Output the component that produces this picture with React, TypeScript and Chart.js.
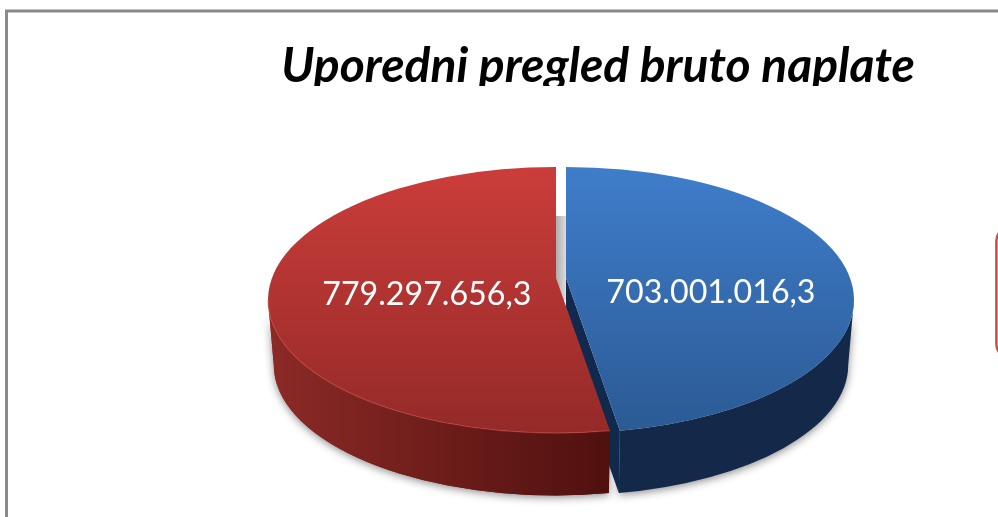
import React, { useEffect, useRef } from "react";
import { Chart, registerables } from "chart.js";

Chart.register(...registerables);

const titleText = "Uporedni pregled bruto naplate";
const categories = ["Bruto naplata A", "Bruto naplata B"];
const seriesValues = [703001016.3, 779297656.3];
const faceTop = ["#3f7dcb", "#cb3d3a"];
const faceBottom = ["#2b5a94", "#942a28"];
const sideLeft = ["#14294a", "#8c2a27"];
const sideRight = ["#14294a", "#4f100e"];
const cutFace = ["#11294d", "#5a1512"];
const labelReach = [0.505, 0.45];
const labelLift = [7, 5];

const TILT = 0.462;
const APEX_RISE = 22;
const DEPTH = 65;
const BASE_SCALE = 0.98;

const pieThreeD = {
  id: "pieThreeD",
  beforeDraw(chart: any) {
    const { ctx, width, height } = chart;
    ctx.save();
    ctx.fillStyle = "#ffffff";
    ctx.fillRect(0, 0, width, height);
    ctx.strokeStyle = "#8a8a8a";
    ctx.lineWidth = 3;
    ctx.strokeRect(6.5, 11, width + 40, height + 40);
    ctx.strokeStyle = "#c0504d";
    ctx.lineWidth = 2.5;
    ctx.beginPath();
    ctx.roundRect(996.4, 227, 60, 131, 14);
    ctx.stroke();
    ctx.restore();
  },
  beforeDatasetsDraw(chart: any) {
    const { ctx } = chart;
    ctx.save();
    ctx.fillStyle = "#ffffff";
    ctx.fillRect(270, 86, 660, 14);
    ctx.restore();
  },
  beforeDatasetDraw(chart: any, args: any) {
    const { ctx } = chart;
    const arcs = args.meta.data as any[];

    const geo = arcs.map((el: any) => {
      const p = el.getProps(["x", "y", "startAngle", "endAngle", "outerRadius"], true);
      const mid = (p.startAngle + p.endAngle) / 2;
      const off = (el.options.offset || 0) / 4;
      const ex = p.x + off * Math.cos(mid);
      const ey = p.y;
      const rx = p.outerRadius;
      const ry = rx * TILT;
      const warp = (t: number) => {
        const dx = rx * Math.cos(t);
        const dy = ry * Math.sin(t);
        const a = (dx * dx) / (rx * rx) + (dy * dy) / (ry * ry);
        const b = (2 * -APEX_RISE * dy) / (ry * ry);
        const c = (APEX_RISE * APEX_RISE) / (ry * ry) - 1;
        const s = (-b + Math.sqrt(b * b - 4 * a * c)) / (2 * a);
        const x = s * dx;
        const y = -APEX_RISE + s * dy;
        let ang = Math.atan2(y / ry, x / rx);
        if (ang < t - Math.PI) ang += Math.PI * 2;
        return ang;
      };
      return { ex, ey, rx, ry, start: warp(p.startAngle), end: warp(p.endAngle) };
    });

    const topPt = (g: any, a: number) => [g.ex + g.rx * Math.cos(a), g.ey + g.ry * Math.sin(a)];
    const basePt = (g: any, a: number) => [
      g.ex + BASE_SCALE * g.rx * Math.cos(a),
      g.ey + DEPTH + BASE_SCALE * g.ry * Math.sin(a),
    ];

    ctx.save();

    // shaded strip seen through the gap between the slices
    const b = geo[0];
    const r = geo[1];
    const strip = ctx.createLinearGradient(r.ex, 0, b.ex, 0);
    strip.addColorStop(0, "#adadad");
    strip.addColorStop(1, "#dcdcdc");
    ctx.fillStyle = strip;
    ctx.fillRect(r.ex, b.ey - 84, b.ex - r.ex, 84);

    geo.forEach((g, i) => {
      const a0 = Math.max(g.start, 0);
      const a1 = Math.min(g.end, Math.PI);
      if (a1 > a0) {
        ctx.save();
        ctx.shadowColor = "rgba(0,0,0,0.45)";
        ctx.shadowBlur = 8;
        ctx.shadowOffsetY = 2;
        const side = ctx.createLinearGradient(g.ex - g.rx, 0, g.ex + g.rx * (i === 0 ? 1 : 0.2), 0);
        side.addColorStop(0, sideLeft[i]);
        side.addColorStop(1, sideRight[i]);
        ctx.fillStyle = side;
        ctx.beginPath();
        ctx.ellipse(g.ex, g.ey, g.rx, g.ry, 0, a0, a1);
        ctx.ellipse(g.ex, g.ey + DEPTH, BASE_SCALE * g.rx, BASE_SCALE * g.ry, 0, a1, a0, true);
        ctx.closePath();
        ctx.fill();
        ctx.restore();
      }
    });

    // cut face of the blue slice, seen in the gap
    {
      const c1 = topPt(b, b.end);
      const c2 = basePt(b, b.end);
      ctx.fillStyle = cutFace[0];
      ctx.beginPath();
      ctx.moveTo(b.ex, b.ey - APEX_RISE);
      ctx.lineTo(c1[0], c1[1]);
      ctx.lineTo(c2[0], c2[1]);
      ctx.lineTo(b.ex, b.ey - APEX_RISE + DEPTH);
      ctx.closePath();
      ctx.fill();
    }

    // redraw the red wall over the blue cut face, then the top faces
    {
      const a0 = Math.max(r.start, 0);
      const a1 = Math.min(r.end, Math.PI);
      const side = ctx.createLinearGradient(r.ex - r.rx, 0, r.ex + r.rx * 0.2, 0);
      side.addColorStop(0, sideLeft[1]);
      side.addColorStop(1, sideRight[1]);
      ctx.fillStyle = side;
      ctx.beginPath();
      ctx.ellipse(r.ex, r.ey, r.rx, r.ry, 0, a0, a1);
      ctx.ellipse(r.ex, r.ey + DEPTH, BASE_SCALE * r.rx, BASE_SCALE * r.ry, 0, a1, a0, true);
      ctx.closePath();
      ctx.fill();
    }

    geo.forEach((g, i) => {
      const face = ctx.createLinearGradient(0, g.ey - g.ry, 0, g.ey + g.ry);
      face.addColorStop(0, faceTop[i]);
      face.addColorStop(1, faceBottom[i]);
      ctx.fillStyle = face;
      ctx.beginPath();
      ctx.moveTo(g.ex, g.ey - APEX_RISE);
      ctx.ellipse(g.ex, g.ey, g.rx, g.ry, 0, g.start, g.end);
      ctx.closePath();
      ctx.fill();
    });

    // light rim along the front edge of the red slice
    ctx.strokeStyle = "rgba(205,80,75,0.55)";
    ctx.lineWidth = 1.2;
    ctx.beginPath();
    ctx.ellipse(r.ex, r.ey, r.rx, r.ry, 0, Math.max(r.start, 0), Math.min(r.end, Math.PI));
    ctx.stroke();

    ctx.restore();
    return false;
  },
  afterDatasetsDraw(chart: any) {
    const { ctx } = chart;
    const arcs = chart.getDatasetMeta(0).data as any[];
    ctx.save();
    ctx.fillStyle = "#ffffff";
    ctx.font = '32.2px Lato, "Noto Sans", sans-serif';
    ctx.textAlign = "center";
    ctx.textBaseline = "middle";
    arcs.forEach((el: any, i: number) => {
      const p = el.getProps(["x", "y", "startAngle", "endAngle", "outerRadius"], true);
      const mid = (p.startAngle + p.endAngle) / 2;
      const off = (el.options.offset || 0) / 4;
      const x = p.x + (off + labelReach[i] * p.outerRadius) * Math.cos(mid);
      const text = seriesValues[i].toLocaleString("de-DE", {
        minimumFractionDigits: 1,
        maximumFractionDigits: 1,
      });
      ctx.fillText(text, x, p.y - labelLift[i]);
    });
    ctx.restore();
  },
};

export default function App() {
  const ref = useRef<HTMLCanvasElement | null>(null);
  useEffect(() => {
    document.body.style.margin = "0";
    document.body.style.background = "#ffffff";
    const chart = new Chart(ref.current as HTMLCanvasElement, {
      type: "pie",
      data: {
        labels: categories,
        datasets: [
          {
            data: seriesValues,
            backgroundColor: faceTop,
            borderWidth: 0,
            offset: 20,
            radius: 288,
          } as any,
        ],
      },
      options: {
        responsive: false,
        animation: false,
        layout: { padding: { top: 40, left: 207, right: 83, bottom: 9.8 } },
        plugins: {
          legend: { display: false },
          tooltip: { enabled: false },
          title: {
            display: true,
            text: titleText,
            align: "end",
            color: "#000000",
            padding: 0,
            font: { family: 'Lato, "Noto Sans", sans-serif', size: 48, weight: "bold", style: "italic", lineHeight: 1.1 },
          },
        },
      },
      plugins: [pieThreeD],
    } as any);
    return () => chart.destroy();
  }, []);
  return (
    <div style={{ position: "absolute", left: 0, top: 0, width: 998, height: 517, overflow: "hidden" }}>
      <canvas ref={ref} width={998} height={517} style={{ display: "block" }} />
    </div>
  );
}
